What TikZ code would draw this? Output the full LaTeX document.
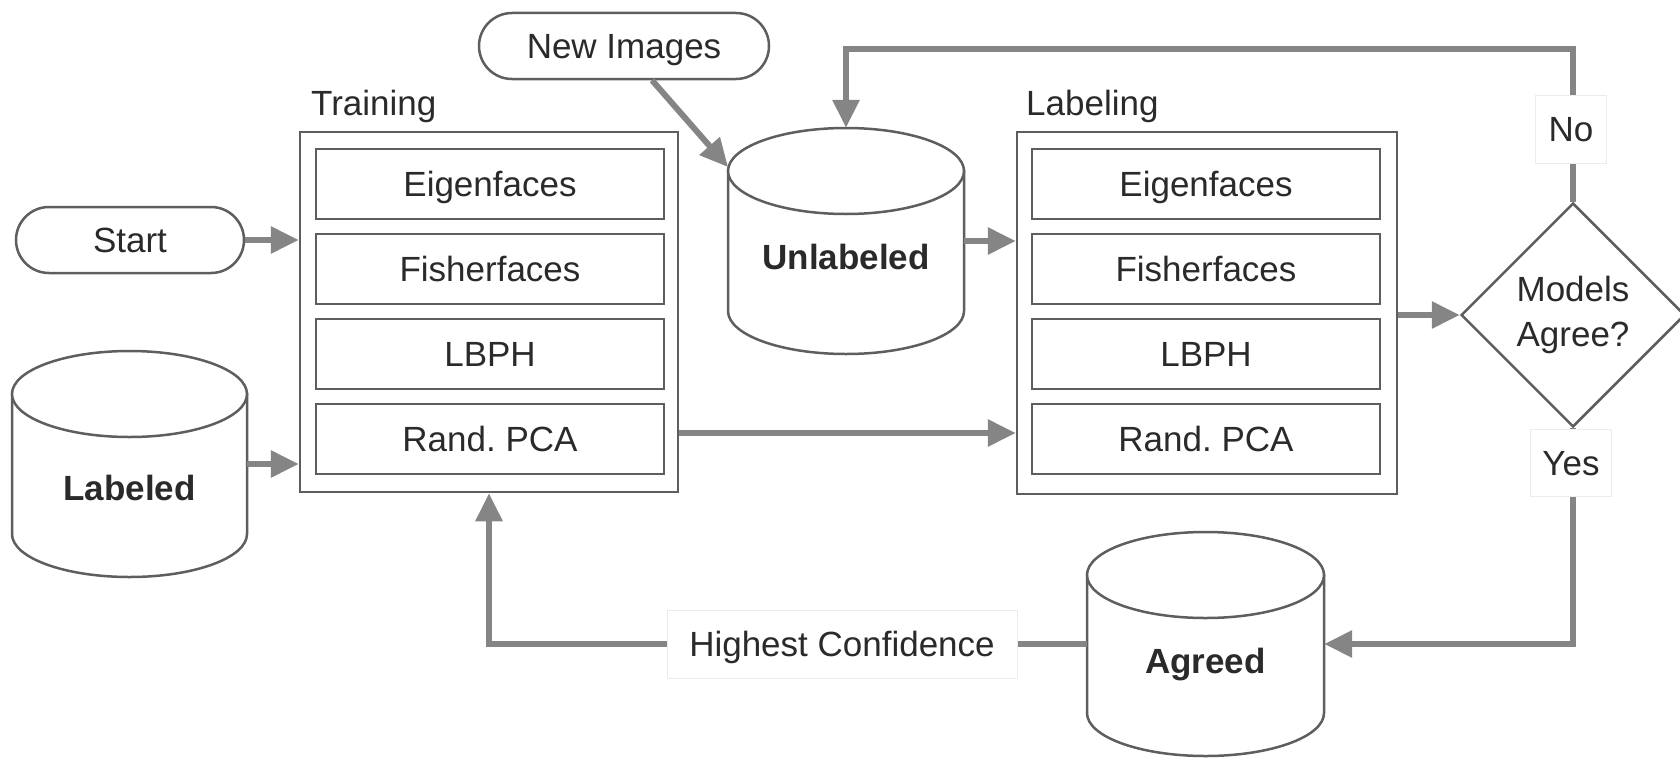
\documentclass[tikz,border=0pt]{standalone}
\usepackage{fontspec}
\setmainfont{Liberation Sans}
\usetikzlibrary{arrows.meta,shapes.geometric}
\definecolor{arr}{HTML}{858585}
\definecolor{ln}{HTML}{5E5E5E}
\definecolor{txt}{HTML}{2A2A2A}
\frenchspacing
\newcommand\dbdraw[5]{% cx, top, bottom, rx, ry
  \draw[ln, line width=2.5pt, fill=white] (#1-#4,#2+#5) -- (#1-#4,#3-#5)
     arc[start angle=180, end angle=0, x radius=#4, y radius=#5] -- (#1+#4,#2+#5) -- cycle;
  \draw[ln, line width=2.5pt, fill=white] (#1,#2+#5) ellipse[x radius=#4, y radius=#5];}
\begin{document}
\begin{tikzpicture}[x=1pt,y=-1pt,
  every node/.style={font=\fontsize{35}{45}\selectfont, text=txt},
  flow/.style={draw=arr, line width=6pt, -{Triangle[length=28pt,width=26pt]}},
  pill/.style={draw=ln, line width=2.5pt, rounded corners=33pt, minimum height=66pt,
     fill=white, inner sep=0pt, text height=25pt, text depth=0pt},
  algo/.style={draw=ln, line width=2.5pt, minimum width=348pt, minimum height=70pt,
     inner sep=0pt, text height=25pt, text depth=0pt},
  group/.style={draw=ln, line width=2.5pt, inner sep=0pt},
  tag/.style={fill=white, draw=black!8, line width=1pt, inner sep=0pt,
     text height=25pt, text depth=0pt},
  hold/.style={inner sep=0pt},
  bold/.style={font=\fontsize{35}{45}\selectfont\bfseries, inner sep=0pt},
]
\useasboundingbox (0,0) rectangle (1680,760);

% cylinders
\dbdraw{846}{128}{354}{118}{43}
\dbdraw{129.5}{351}{577}{117.5}{43}
\dbdraw{1205.5}{532}{756}{118.5}{43}
\node[hold, minimum width=236pt, minimum height=226pt] (unl) at (846,241) {};
\node[hold, minimum width=235pt, minimum height=226pt] (lab) at (129.5,464) {};
\node[hold, minimum width=237pt, minimum height=224pt] (agr) at (1205.5,644) {};
\node[bold] (unlt) at (846,257) {Unlabeled};
\node[bold] (labt) at (129.5,488) {Labeled};
\node[bold, anchor=base] (agrt) at (1205.5,673) {Agreed};
\coordinate (unltl) at (728,167);

% pills
\node[pill, minimum width=228pt] (start) at (130,240) {Start};
\node[pill, minimum width=290pt] (newimg) at (624,46) {New Images};

% groups
\node[inner sep=0pt, anchor=base west] (ttrain) at (311,115) {Training};
\node[inner sep=0pt, anchor=base west] (tlabel) at (1026,115) {Labeling};
\node[group, minimum width=378pt, minimum height=360pt] (train) at (489,312) {};
\node[group, minimum width=380pt, minimum height=362pt] (labg) at (1207,313) {};

\node[algo] (e1) at (490,184) {Eigenfaces};
\node[algo] (f1) at (490,269) {Fisherfaces};
\node[algo] (l1) at (490,354) {LBPH};
\node[algo] (r1) at (490,439) {Rand. PCA};
\node[algo] (e2) at (1206,184) {Eigenfaces};
\node[algo] (f2) at (1206,269) {Fisherfaces};
\node[algo] (l2) at (1206,354) {LBPH};
\node[algo] (r2) at (1206,439) {Rand. PCA};

% decision
\node[diamond, draw=ln, line width=2.5pt, minimum width=224pt, minimum height=224pt,
      inner sep=0pt, align=center] (dia) at (1573,315) {Models\\Agree?};

% connectors
\coordinate (topy) at (0,49);
\draw[flow] (start) -- (start -| train.west);
\draw[flow] (lab) -- (lab -| train.west);
\draw[flow] (unl) -- (unl -| labg.west);
\draw[flow] ([yshift=6pt]train.east |- r1) -- ([yshift=6pt]labg.west |- r1);
\draw[flow] (labg.east |- dia) -- (dia.west);
\draw[flow] ([xshift=28pt]newimg.south) -- (unltl);
\draw[flow] (dia.north) -- (dia.north |- topy) -| (unl.north);
\draw[flow] (dia.south) |- (agr.east);
\draw[flow] (agr.west) -| (train.south);

% connector labels
\node[tag, minimum width=71pt, minimum height=68pt] (no) at (1571,129) {No};
\node[tag, minimum width=81pt, minimum height=67pt] (yes) at (1571,463) {Yes};
\node[tag, minimum width=350pt, minimum height=68pt] (hc) at (842,644) {Highest Confidence};
\end{tikzpicture}
\end{document}
